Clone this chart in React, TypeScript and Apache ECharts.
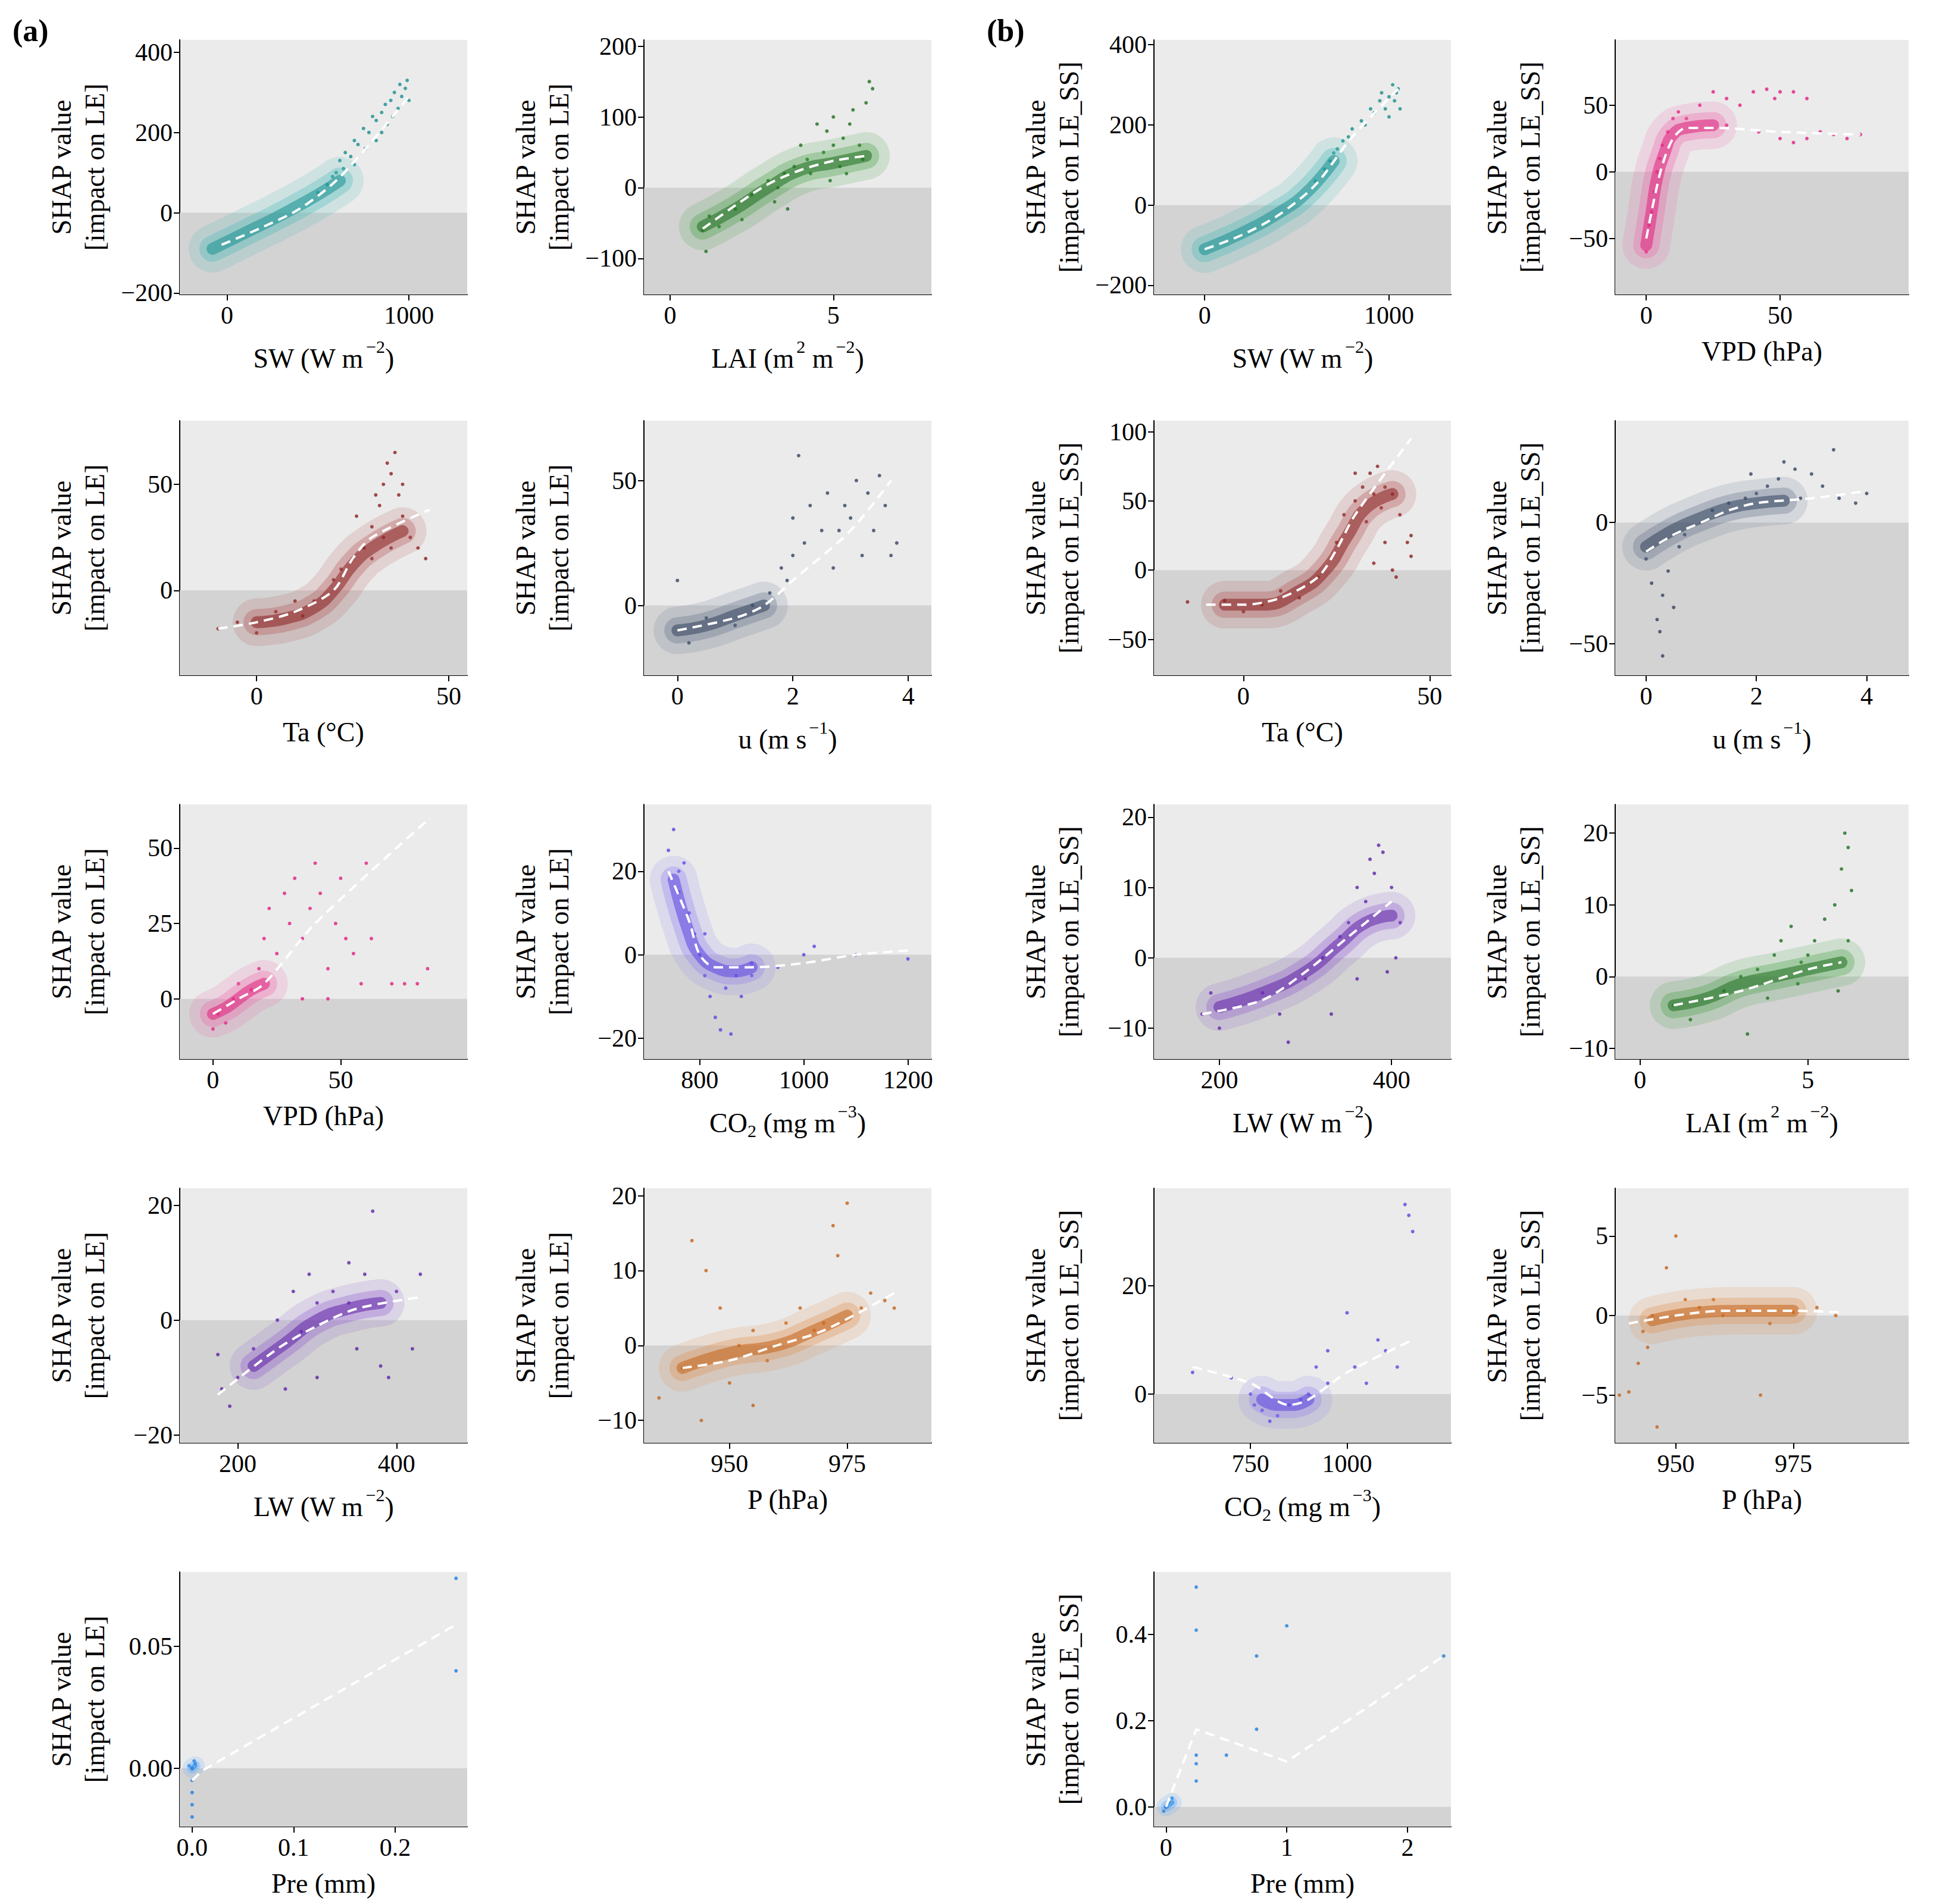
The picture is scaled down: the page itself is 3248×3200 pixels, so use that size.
import React, { useEffect, useRef } from "react";
import * as echarts from "echarts";

type P = [number, number][];

// ---- data ----
const aSW_pts: P = [[500,50],[550,70],[600,100],[620,130],[650,150],[700,180],[720,170],[750,210],[780,200],[800,240],[820,230],[850,250],[870,270],[900,280],[920,300],[950,320],[960,290],[980,310],[1000,280],[940,260],[880,220],[760,160],[680,140],[640,110],[580,90],[850,200],[990,330],[700,120],[820,180],[910,240]];
const aSW_core: P = [[-80,-90],[100,-50],[300,-5],[500,45],[620,80]];
const aSW_trend: P = [[-30,-80],[200,-35],[400,10],[600,80],[800,180],[1000,290]];

const aLAI_pts: P = [[1,-60],[1.2,-40],[1.5,-55],[2,-30],[2.5,-10],[3,10],[3.2,-20],[3.5,20],[3.6,-30],[3.8,30],[4,60],[4.2,40],[4.5,90],[4.7,50],[4.8,80],[5,60],[5,100],[5.2,30],[5.3,70],[5.5,90],[5.6,110],[5.8,60],[6,120],[6.1,150],[6.2,140],[5.9,40],[4.3,20],[3.3,0],[2.2,-45],[1.1,-90],[5.4,20],[4.9,10]];
const aLAI_core: P = [[1,-55],[2,-30],[3,0],[4,25],[5,35],[6,45]];
const aLAI_trend: P = [[1,-58],[2,-25],[3,5],[4,25],[5,38],[6,45]];

const bSW_pts: P = [[600,60],[650,90],[700,130],[750,160],[800,190],[850,210],[900,240],[950,260],[1000,270],[1020,300],[1050,290],[980,240],[920,230],[870,200],[1030,260],[1000,220],[960,280],[780,170],[720,140],[680,110],[1060,240],[1040,280]];
const bSW_core: P = [[0,-110],[200,-70],[400,-20],[550,30],[700,110]];
const bSW_trend: P = [[0,-110],[200,-75],[400,-25],[600,50],[800,170],[1050,290]];

const bVPD_pts: P = [[0,-60],[1,-40],[2,-30],[3,-15],[4,0],[5,10],[6,20],[8,30],[10,40],[12,45],[15,40],[20,50],[25,60],[30,55],[35,50],[40,60],[45,62],[48,55],[50,60],[55,60],[60,55],[50,25],[55,22],[60,25],[65,30],[70,28],[75,25],[80,28],[42,30],[30,35]];
const bVPD_core: P = [[0,-55],[2,-30],[4,-5],[7,15],[10,28],[15,33],[25,35]];
const bVPD_trend: P = [[0,-50],[3,-20],[6,5],[10,25],[15,33],[25,33],[50,30],[80,28]];

const aTa_pts: P = [[-10,-18],[-5,-15],[0,-20],[5,-10],[10,-5],[12,-12],[15,-5],[20,5],[22,10],[25,15],[28,20],[30,30],[32,40],[33,50],[34,60],[35,55],[36,65],[37,45],[38,35],[40,25],[42,20],[44,15],[35,20],[30,15],[26,35],[33,25],[38,50],[31,45]];
const aTa_core: P = [[0,-15],[8,-13],[15,-8],[20,0],[25,12],[30,20],[38,28]];
const aTa_trend: P = [[-10,-18],[0,-15],[10,-10],[20,0],[25,15],[30,25],[45,38]];

const aU_pts: P = [[0,10],[0.2,-15],[0.5,-5],[1,-8],[1.3,0],[1.6,5],[1.8,15],[2,20],[2,35],[2.2,25],[2.3,40],[2.5,30],[2.6,45],[2.8,30],[2.9,40],[3,35],[3.1,50],[3.2,20],[3.3,45],[3.4,30],[3.5,52],[3.7,20],[3.8,25],[2.1,60],[1.9,10],[2.7,15],[3.6,40]];
const aU_core: P = [[0,-10],[0.5,-8],[1,-4],[1.5,0]];
const aU_trend: P = [[0,-10],[1,-5],[1.5,0],[2,10],[3,30],[3.7,50]];

const bTa_pts: P = [[-15,-23],[-5,-22],[0,-30],[5,-25],[10,-15],[15,-20],[20,-5],[25,20],[27,40],[30,50],[32,60],[34,70],[35,55],[36,75],[38,60],[40,55],[42,40],[44,20],[45,10],[40,0],[35,5],[38,20],[33,35],[30,70],[45,25],[41,-5],[37,45]];
const bTa_core: P = [[-5,-25],[5,-25],[15,-15],[22,0],[28,25],[33,45],[40,55]];
const bTa_trend: P = [[-10,-25],[0,-25],[10,-20],[20,-5],[25,15],[30,40],[45,95]];

const bU_pts: P = [[0,-15],[0.1,-25],[0.2,-40],[0.25,-45],[0.3,-55],[0.3,-30],[0.4,-20],[0.5,-35],[0.6,-10],[0.7,-5],[1,0],[1.2,5],[1.5,8],[1.8,10],[2,12],[2.2,15],[2.4,18],[2.5,25],[2.7,22],[3,20],[3.2,15],[3.4,30],[3.5,10],[3.8,8],[4,12],[2.8,10],[1.9,20]];
const bU_core: P = [[0,-10],[0.5,-3],[1,2],[1.5,6],[2,8],[2.5,9]];
const bU_trend: P = [[0,-12],[0.5,-5],[1,0],[1.5,5],[2,8],[3,10],[4,13]];

const aVPD_pts: P = [[0,-10],[2,-5],[5,-8],[8,0],[10,5],[15,3],[18,10],[20,20],[22,30],[25,15],[28,35],[30,25],[32,40],[35,20],[38,30],[40,45],[42,35],[45,10],[48,25],[50,40],[52,20],[55,15],[58,5],[60,45],[62,20],[70,5],[75,5],[80,5],[84,10],[35,0],[45,0]];
const aVPD_core: P = [[0,-5],[5,-3],[10,0],[15,3],[20,5]];
const aVPD_trend: P = [[0,-5],[10,0],[20,5],[40,25],[85,60]];

const aCO2_pts: P = [[740,25],[750,30],[760,20],[770,22],[780,10],[790,5],[800,0],[810,-5],[820,-10],[830,-15],[840,-18],[860,-19],[880,-10],[900,-5],[950,-3],[1000,0],[1020,2],[1100,0],[1200,-1],[870,-5],[760,15],[850,-8],[900,-2],[810,5]];
const aCO2_core: P = [[750,18],[780,5],[800,0],[830,-3],[870,-4],[900,-3]];
const aCO2_trend: P = [[740,20],[780,8],[800,0],[830,-3],[900,-3],[1000,-2],[1100,0],[1200,1]];

const bLW_pts: P = [[180,-8],[190,-5],[200,-10],[220,-7],[250,-5],[270,-8],[300,-3],[320,0],[340,3],[350,5],[360,10],[370,8],[380,12],[385,16],[390,15],[400,10],[410,5],[395,-2],[330,-8],[280,-12],[360,-3],[375,14],[405,0]];
const bLW_core: P = [[200,-7],[250,-5],[300,-2],[340,2],[370,5],[400,6]];
const bLW_trend: P = [[180,-8],[250,-6],[300,-2],[350,3],[400,8]];

const bLAI_pts: P = [[1,-4],[1.5,-6],[2,-3],[2.5,-2],[3,0],[3.2,-8],[3.5,1],[4,3],[4.2,5],[4.5,7],[4.8,2],[5,3],[5.2,5],[5.5,8],[5.8,10],[6,15],[6.1,20],[6.2,18],[6.3,12],[5.9,-2],[4.7,-1],[3.8,-3],[6.2,5]];
const bLAI_core: P = [[1,-4],[2,-3],[3,-1],[4,0],[5,1],[6,2]];
const bLAI_trend: P = [[1,-4],[3,-2],[5,1],[6,2]];

const aLW_pts: P = [[175,-6],[180,-12],[190,-15],[200,-10],[220,-5],[250,0],[270,5],[290,8],[300,3],[320,5],[340,3],[350,-5],[360,8],[370,19],[380,-8],[390,-10],[400,5],[420,-5],[430,8],[260,-12],[300,-10],[340,10],[280,-2]];
const aLW_core: P = [[220,-8],[260,-4],[300,0],[340,2],[380,3]];
const aLW_trend: P = [[175,-13],[250,-5],[300,-1],[350,2],[430,4]];

const aP_pts: P = [[935,-7],[940,-3],[942,14],[945,10],[948,5],[950,-5],[952,0],[955,2],[958,-2],[960,0],[962,3],[965,5],[968,2],[970,3],[972,16],[975,19],[978,5],[980,7],[983,6],[985,5],[944,-10],[955,-8],[973,12]];
const aP_core: P = [[940,-3],[950,-1],[960,0],[968,2],[975,4]];
const aP_trend: P = [[940,-3],[950,-2],[960,0],[970,2],[985,7]];

const bCO2_pts: P = [[600,4],[700,3],[750,0],[760,-2],[780,-3],[800,-5],[820,-4],[850,-2],[880,-1],[900,0],[920,5],[950,8],[1000,15],[1020,5],[1050,2],[1100,8],[1150,35],[1160,33],[1170,30],[1130,5],[1080,10],[950,2]];
const bCO2_core: P = [[780,-1],[820,-2],[860,-2],[900,-1]];
const bCO2_trend: P = [[600,5],[750,2],[850,-2],[900,-1],[1000,4],[1170,10]];

const bP_pts: P = [[937,-0.5],[938,-5],[940,-4.8],[942,-3],[945,0],[948,3],[950,5],[952,1],[955,0.5],[960,0],[965,0.3],[970,-0.5],[975,0.2],[980,0.5],[984,0],[946,-7],[943,-1],[958,1],[968,-5],[944,-2]];
const bP_core: P = [[945,-0.3],[955,0.2],[965,0.3],[975,0.3]];
const bP_trend: P = [[940,-0.5],[950,0],[960,0.3],[975,0.3],[985,0.2]];

const aPre_pts: P = [[0,0],[0,-0.005],[0,-0.01],[0,-0.015],[0,-0.02],[0.002,0.003],[0.003,0.002],[0.26,0.078],[0.26,0.04],[-0.003,0.001]];
const aPre_core: P = [[0,0],[0.003,0.001]];
const aPre_trend: P = [[0,-0.005],[0.01,-0.001],[0.26,0.059]];

const bPre_pts: P = [[0,0],[0.02,0.01],[0.25,0.51],[0.25,0.41],[1,0.42],[0.75,0.35],[0.75,0.18],[0.5,0.12],[0.25,0.12],[0.25,0.1],[0.25,0.06],[2.3,0.35],[0.05,0.02],[-0.02,-0.01]];
const bPre_core: P = [[0,0],[0.05,0.01]];
const bPre_trend: P = [[0,0],[0.25,0.18],[1,0.105],[2.3,0.35]];

// x tick values / y tick values
const ticks = {
  aSW: [[0, 1000], [-200, 0, 200, 400]],
  aLAI: [[0, 5], [-100, 0, 100, 200]],
  bSW: [[0, 1000], [-200, 0, 200, 400]],
  bVPD: [[0, 50], [-50, 0, 50]],
  aTa: [[0, 50], [0, 50]],
  aU: [[0, 2, 4], [0, 50]],
  bTa: [[0, 50], [-50, 0, 50, 100]],
  bU: [[0, 2, 4], [-50, 0]],
  aVPD: [[0, 50], [0, 25, 50]],
  aCO2: [[800, 1000, 1200], [-20, 0, 20]],
  bLW: [[200, 400], [-10, 0, 10, 20]],
  bLAI: [[0, 5], [-10, 0, 10, 20]],
  aLW: [[200, 400], [-20, 0, 20]],
  aP: [[950, 975], [-10, 0, 10, 20]],
  bCO2: [[750, 1000], [0, 20]],
  bP: [[950, 975], [-5, 0, 5]],
  aPre: [[0, 0.1, 0.2], [0, 0.05]],
  bPre: [[0, 1, 2], [0, 0.2, 0.4]],
};

// ---- layout / style ----
const F = 2.08;
const px = (v: number) => Math.round(v * F - 8);
const COL = [145, 520, 932, 1305];
const W = [232, 232, 240, 237];
const ROWS = [32, 340, 650, 960, 1270];
const H = 206;

const LE = "SHAP value\n[impact on LE]";
const LESS = "SHAP value\n[impact on LE_SS]";

const panels = [
  { k: "aSW", c: 0, r: 0, x: [-260, 1320], y: [-204, 431], col: "#3fb6b6", dark: "#1a8f8f", xl: "SW (W m{sup|−2})", yl: LE, pts: aSW_pts, core: aSW_core, tr: aSW_trend },
  { k: "aLAI", c: 1, r: 0, x: [-0.8, 8], y: [-151, 209], col: "#3a9a3a", dark: "#1f6e1f", xl: "LAI (m{sup|2} m{sup|−2})", yl: LE, pts: aLAI_pts, core: aLAI_core, tr: aLAI_trend },
  { k: "bSW", c: 2, r: 0, x: [-275, 1336], y: [-223, 412], col: "#3fb6b6", dark: "#1a8f8f", xl: "SW (W m{sup|−2})", yl: LESS, pts: bSW_pts, core: bSW_core, tr: bSW_trend },
  { k: "bVPD", c: 3, r: 0, x: [-11.6, 98], y: [-92, 99], col: "#ee5fa7", dark: "#e0207e", xl: "VPD (hPa)", yl: LESS, pts: bVPD_pts, core: bVPD_core, tr: bVPD_trend },
  { k: "aTa", c: 0, r: 1, x: [-20, 54.8], y: [-40, 80], col: "#b04848", dark: "#8b2020", xl: "Ta (°C)", yl: LE, pts: aTa_pts, core: aTa_core, tr: aTa_trend },
  { k: "aU", c: 1, r: 1, x: [-0.58, 4.4], y: [-28, 74], col: "#5a6a85", dark: "#34445f", xl: "u (m s{sup|−1})", yl: LE, pts: aU_pts, core: aU_core, tr: aU_trend },
  { k: "bTa", c: 2, r: 1, x: [-24, 55.7], y: [-76, 108], col: "#b04848", dark: "#8b2020", xl: "Ta (°C)", yl: LESS, pts: bTa_pts, core: bTa_core, tr: bTa_trend },
  { k: "bU", c: 3, r: 1, x: [-0.56, 4.76], y: [-63, 42], col: "#5a6a85", dark: "#34445f", xl: "u (m s{sup|−1})", yl: LESS, pts: bU_pts, core: bU_core, tr: bU_trend },
  { k: "aVPD", c: 0, r: 2, x: [-13, 99.5], y: [-20, 64.5], col: "#ee5fa7", dark: "#e0207e", xl: "VPD (hPa)", yl: LE, pts: aVPD_pts, core: aVPD_core, tr: aVPD_trend },
  { k: "aCO2", c: 1, r: 2, x: [693, 1245], y: [-25, 36], col: "#8a7af0", dark: "#5b45e0", xl: "CO{sub|2} (mg m{sup|−3})", yl: LE, pts: aCO2_pts, core: aCO2_core, tr: aCO2_trend },
  { k: "bLW", c: 2, r: 2, x: [124, 469], y: [-14.4, 21.8], col: "#8a55cc", dark: "#5e23a8", xl: "LW (W m{sup|−2})", yl: LESS, pts: bLW_pts, core: bLW_core, tr: bLW_trend },
  { k: "bLAI", c: 3, r: 2, x: [-0.74, 8], y: [-11.5, 24], col: "#3a9a3a", dark: "#1f6e1f", xl: "LAI (m{sup|2} m{sup|−2})", yl: LESS, pts: bLAI_pts, core: bLAI_core, tr: bLAI_trend },
  { k: "aLW", c: 0, r: 3, x: [127, 489], y: [-21.4, 23], col: "#8a55cc", dark: "#5e23a8", xl: "LW (W m{sup|−2})", yl: LE, pts: aLW_pts, core: aLW_core, tr: aLW_trend },
  { k: "aP", c: 1, r: 3, x: [931.8, 992.9], y: [-13, 21], col: "#e08a44", dark: "#c4631a", xl: "P (hPa)", yl: LE, pts: aP_pts, core: aP_core, tr: aP_trend },
  { k: "bCO2", c: 2, r: 3, x: [500, 1269], y: [-9, 38], col: "#8a7af0", dark: "#5b45e0", xl: "CO{sub|2} (mg m{sup|−3})", yl: LESS, pts: bCO2_pts, core: bCO2_core, tr: bCO2_trend },
  { k: "bP", c: 3, r: 3, x: [937.1, 999.5], y: [-8, 8], col: "#e08a44", dark: "#c4631a", xl: "P (hPa)", yl: LESS, pts: bP_pts, core: bP_core, tr: bP_trend },
  { k: "aPre", c: 0, r: 4, x: [-0.0122, 0.271], y: [-0.024, 0.0806], col: "#4da3ff", dark: "#1f7fe0", xl: "Pre (mm)", yl: LE, pts: aPre_pts, core: aPre_core, tr: aPre_trend, xd: 1, yd: 2, straight: true, small: true },
  { k: "bPre", c: 2, r: 4, x: [-0.1, 2.36], y: [-0.046, 0.545], col: "#4da3ff", dark: "#1f7fe0", xl: "Pre (mm)", yl: LESS, pts: bPre_pts, core: bPre_core, tr: bPre_trend, xd: 0, yd: 1, straight: true, small: true },
] as any[];

const FONT = "Liberation Serif";
const fmt = (d?: number) => (v: number) => (d === undefined ? String(v) : v.toFixed(d)).replace("-", "−");

export default function App() {
  const ref = useRef<HTMLDivElement>(null);
  useEffect(() => {
    const chart = echarts.init(ref.current!, null, { renderer: "svg" });
    const grid: any[] = [], xAxis: any[] = [], yAxis: any[] = [], series: any[] = [];
    panels.forEach((p, i) => {
      const [xt, yt] = (ticks as any)[p.k];
      const gx = COL[p.c];
      const s = p.small ? 0.4 : 1;
      grid.push({ left: px(gx), top: px(ROWS[p.r]), width: Math.round(W[p.c] * F), height: Math.round(H * F), show: true, backgroundColor: "#ebebeb", borderWidth: 0 });
      const axisCommon = {
        axisLine: { show: true, onZero: false, lineStyle: { color: "#000", width: 2 } },
        axisTick: { show: true, length: 10, lineStyle: { color: "#000", width: 2 } },
        splitLine: { show: false },
        nameLocation: "middle",
        nameTextStyle: { fontFamily: FONT, fontSize: 46, color: "#000", rich: {
          sup: { fontFamily: FONT, fontSize: 30, color: "#000", padding: [0, 0, 40, 4] },
          sub: { fontFamily: FONT, fontSize: 30, color: "#000", padding: [26, 0, 0, 0] },
        } },
      };
      xAxis.push({ ...axisCommon, gridIndex: i, type: "value", min: p.x[0], max: p.x[1], name: p.xl, nameGap: 72,
        axisTick: { ...axisCommon.axisTick, customValues: xt },
        axisLabel: { customValues: xt, fontFamily: FONT, fontSize: 42, color: "#000", margin: 14, formatter: fmt(p.xd) } });
      yAxis.push({ ...axisCommon, gridIndex: i, type: "value", min: p.y[0], max: p.y[1], name: p.yl, nameGap: 115,
        nameTextStyle: { ...axisCommon.nameTextStyle, lineHeight: 56 },
        axisTick: { ...axisCommon.axisTick, customValues: yt },
        axisLabel: { customValues: yt, fontFamily: FONT, fontSize: 42, color: "#000", margin: 12, formatter: fmt(p.yd) } });
      series.push({ type: "line", xAxisIndex: i, yAxisIndex: i, data: p.core, symbol: "none", smooth: true, clip: true,
        lineStyle: { color: p.col, width: 80 * s, opacity: 0.16, cap: "round", join: "round" },
        markArea: { silent: true, itemStyle: { color: "#d3d3d3" }, data: [[{ yAxis: p.y[0] }, { yAxis: 0 }]] } });
      series.push({ type: "line", xAxisIndex: i, yAxisIndex: i, data: p.core, symbol: "none", smooth: true, clip: true,
        lineStyle: { color: p.col, width: 44 * s, opacity: 0.3, cap: "round", join: "round" } });
      series.push({ type: "line", xAxisIndex: i, yAxisIndex: i, data: p.core, symbol: "none", smooth: true, clip: true,
        lineStyle: { color: p.dark, width: 20 * s, opacity: 0.55, cap: "round", join: "round" } });
      series.push({ type: "scatter", xAxisIndex: i, yAxisIndex: i, data: p.pts, symbolSize: 6, clip: true,
        itemStyle: { color: p.dark, opacity: 0.8 } });
      series.push({ type: "line", xAxisIndex: i, yAxisIndex: i, data: p.tr, symbol: "none", smooth: p.straight ? false : 0.3, clip: true,
        lineStyle: { color: "#ffffff", width: 4, type: [16, 10] } });
    });
    chart.setOption({
      animation: false,
      backgroundColor: "#fff",
      grid, xAxis, yAxis, series,
      graphic: [
        { type: "text", left: px(10), top: px(12), style: { text: "(a)", font: `bold 52px "${FONT}"`, fill: "#000" } },
        { type: "text", left: px(797), top: px(12), style: { text: "(b)", font: `bold 52px "${FONT}"`, fill: "#000" } },
      ],
    });
    return () => chart.dispose();
  }, []);
  return <div ref={ref} style={{ width: 3232, height: 3200 }} />;
}
